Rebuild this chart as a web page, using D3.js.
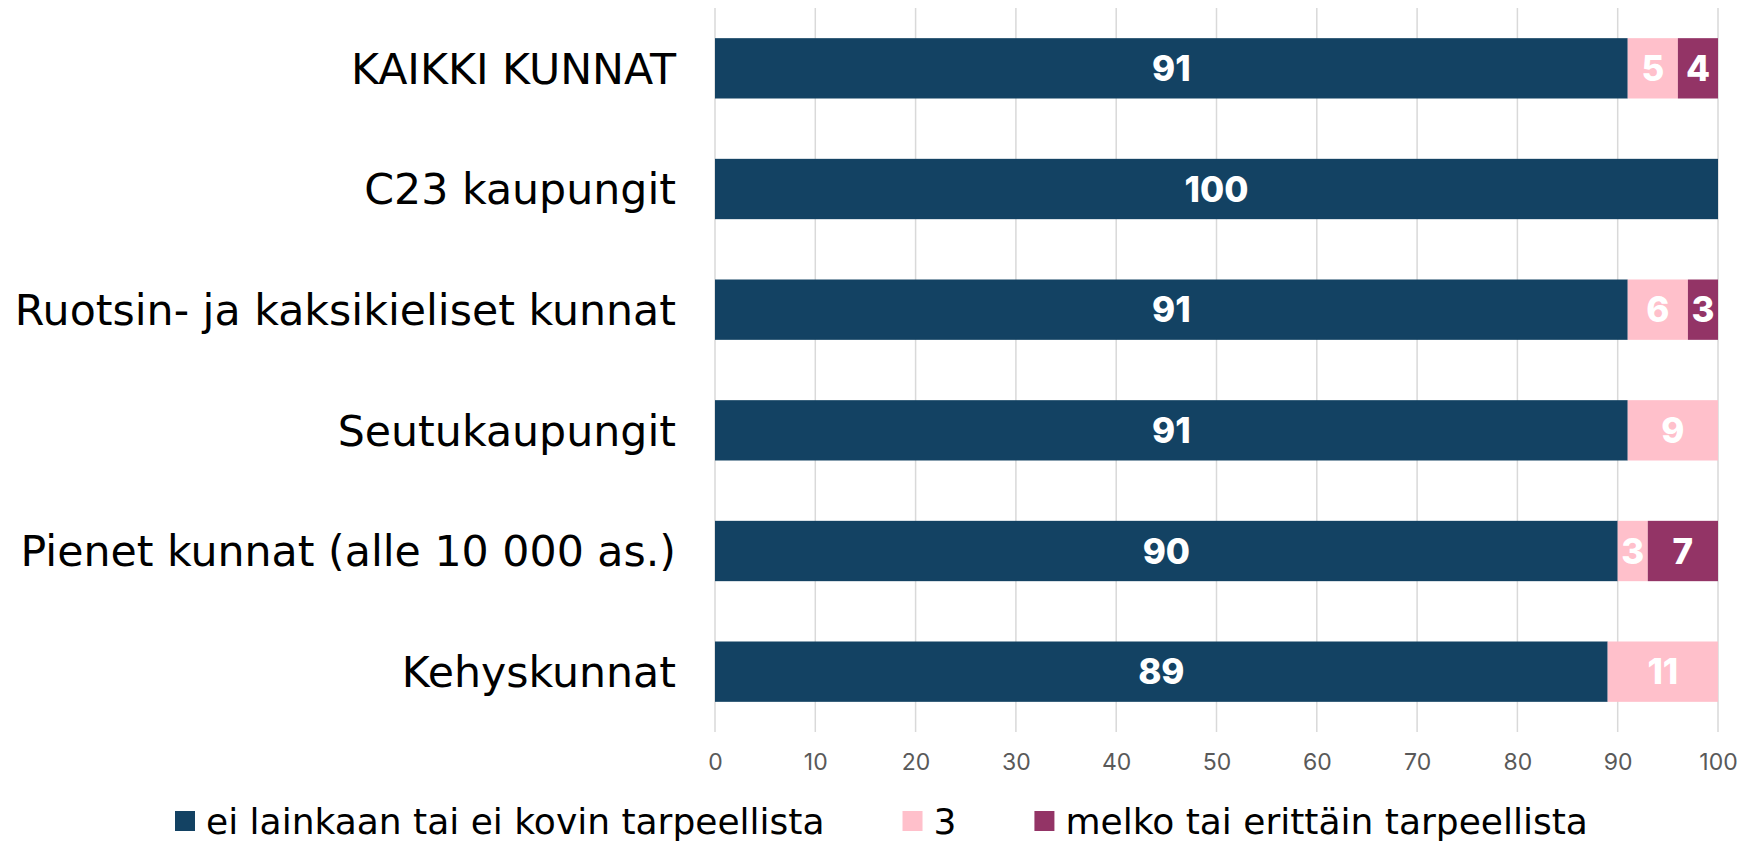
<!DOCTYPE html>
<html><head><meta charset="utf-8">
<script src="https://cdn.jsdelivr.net/npm/d3@7"></script>
<style>body{margin:0;background:#fff}svg{display:block}</style>
</head><body>
<script>
const categories = ["KAIKKI KUNNAT","C23 kaupungit","Ruotsin- ja kaksikieliset kunnat","Seutukaupungit","Pienet kunnat (alle 10 000 as.)","Kehyskunnat"];
const seriesNames = ["ei lainkaan tai ei kovin tarpeellista","3","melko tai erittäin tarpeellista"];
const notNeeded = [91,100,91,91,90,89];
const neutral = [5,0,6,9,3,11];
const needed = [4,0,3,0,7,0];
const colors = ["#134263","#ffc0cb","#933466"];
const xTicks = [0,10,20,30,40,50,60,70,80,90,100];

const W=1739,H=844;
const m={left:715,right:21,top:8,bottom:112};
const svg=d3.select("body").append("svg").attr("width",W).attr("height",H);
const font="Inter, 'Open Sans', sans-serif";
const labelFont="'DejaVu Sans', sans-serif";

const x=d3.scaleLinear().domain([0,100]).range([m.left,W-m.right]);
const y=d3.scaleBand().domain(categories).range([m.top,H-m.bottom]).paddingInner(0.5).paddingOuter(0.25);

svg.append("g").selectAll("line").data(xTicks).join("line")
  .attr("x1",d=>x(d)).attr("x2",d=>x(d)).attr("y1",m.top).attr("y2",H-m.bottom)
  .attr("stroke","#d9d9d9").attr("stroke-width",1.5);

const ax=svg.append("g").attr("transform",`translate(0,${H-m.bottom})`)
  .call(d3.axisBottom(x).tickValues(xTicks).tickSize(0).tickPadding(22));
ax.select(".domain").remove();
ax.selectAll("text").attr("font-family",font).attr("font-size",23).attr("fill","#595959");

const rows=categories.map((c,i)=>({cat:c,vals:[notNeeded[i],neutral[i],needed[i]]}));
const stacked=d3.stack().keys([0,1,2]).value((d,k)=>d.vals[k])(rows);

stacked.forEach((layer,k)=>{
  const g=svg.append("g");
  g.selectAll("rect").data(layer).join("rect")
    .attr("x",d=>x(d[0])).attr("width",d=>x(d[1])-x(d[0]))
    .attr("y",d=>y(d.data.cat)).attr("height",y.bandwidth())
    .attr("fill",colors[k]);
  g.selectAll("text").data(layer.filter(d=>d[1]-d[0]>0)).join("text")
    .attr("x",d=>(x(d[0])+x(d[1]))/2).attr("y",d=>y(d.data.cat)+y.bandwidth()/2)
    .attr("dy","0.36em").attr("text-anchor","middle")
    .attr("font-family",font).attr("font-weight",800).attr("font-size",35)
    .attr("fill","#fff").text(d=>d[1]-d[0]);
});

svg.append("g").selectAll("text").data(categories).join("text")
  .attr("x",m.left-39).attr("y",d=>y(d)+y.bandwidth()/2).attr("dy","0.36em")
  .attr("text-anchor","end").attr("font-family",labelFont).attr("font-size",42.7)
  .attr("fill","#000").text(d=>d);

const lg=svg.append("g");
let cx=0;
seriesNames.forEach((n,i)=>{
  const it=lg.append("g");
  it.append("rect").attr("x",0).attr("y",-10).attr("width",20).attr("height",20).attr("fill",colors[i]);
  const t=it.append("text").attr("x",31).attr("dy","0.36em").attr("font-family",labelFont).attr("font-size",36).attr("fill","#000").text(n);
  const w=31+t.node().getComputedTextLength();
  it.attr("transform",`translate(${cx},0)`);
  cx+=w+78;
});
lg.attr("transform",`translate(175,821)`);
</script>
</body></html>
